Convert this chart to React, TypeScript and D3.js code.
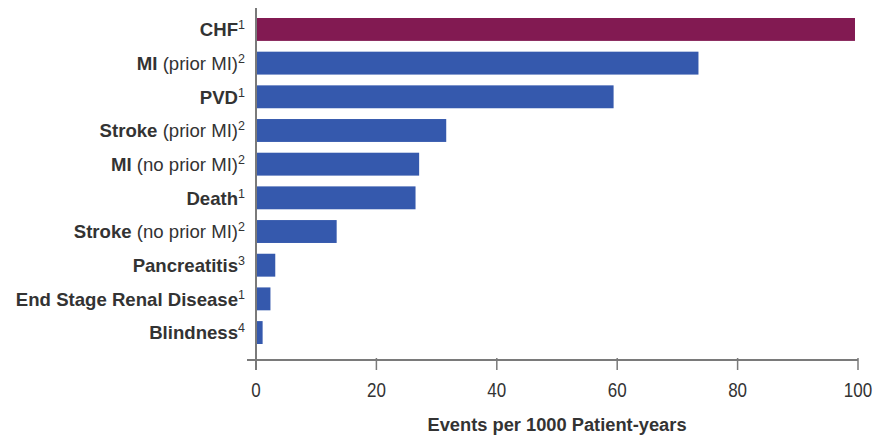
import React from "react";
import * as d3 from "d3";

// Event rates per 1000 patient-years
const outcomes = [
  "CHF",
  "MI",
  "PVD",
  "Stroke",
  "MI",
  "Death",
  "Stroke",
  "Pancreatitis",
  "End Stage Renal Disease",
  "Blindness",
];
const qualifiers = ["", "(prior MI)", "", "(prior MI)", "(no prior MI)", "", "(no prior MI)", "", "", ""];
const footnotes = ["1", "2", "1", "2", "2", "1", "2", "3", "1", "4"];
const rates = [99.5, 73.5, 59.4, 31.6, 27.1, 26.5, 13.4, 3.2, 2.4, 1.1];
const xTicks = [0, 20, 40, 60, 80, 100];
const xTitle = "Events per 1000 Patient-years";

const W = 885;
const H = 436;
const TEXT = "#333333";
const AXIS = "#7a7a7a";
const HIGHLIGHT = "#821a52";
const BAR = "#3559ad";
const FONT = "'Liberation Sans', Arial, sans-serif";

export default function App() {
  const ids = outcomes.map((_, i) => String(i));
  const x = d3.scaleLinear().domain([0, 100]).range([256, 858]);
  const y = d3.scaleBand<string>().domain(ids).range([18, 344]).paddingInner(0.32).paddingOuter(0);
  const axisY = 360;

  return (
    <svg width={W} height={H} style={{ position: "absolute", left: 0, top: 0, background: "#fff" }} fontFamily={FONT}>
      {rates.map((v, i) => (
        <rect
          key={"b" + i}
          x={x(0)}
          y={y(ids[i])}
          width={x(v) - x(0)}
          height={y.bandwidth()}
          fill={i === 0 ? HIGHLIGHT : BAR}
        />
      ))}

      {outcomes.map((name, i) => {
        const cy = (y(ids[i]) as number) + y.bandwidth() / 2;
        return (
          <text key={"l" + i} x={245} y={cy + 6.8} textAnchor="end" fill={TEXT} fontSize={18.6}>
            <tspan fontWeight="bold">{name}</tspan>
            {qualifiers[i] ? <tspan fontWeight="normal">{" " + qualifiers[i]}</tspan> : null}
            <tspan fontSize={12.5} dy={-7}>{footnotes[i]}</tspan>
          </text>
        );
      })}

      {/* axes */}
      <line x1={x(0)} x2={x(0)} y1={8} y2={370} stroke={AXIS} strokeWidth={2} />
      <line x1={247} x2={x(100)} y1={axisY} y2={axisY} stroke={AXIS} strokeWidth={2} />
      {xTicks.map((t) => (
        <g key={"t" + t}>
          <line x1={x(t)} x2={x(t)} y1={axisY - 2} y2={370} stroke={AXIS} strokeWidth={1.5} />
          <text
            transform={`translate(${x(t)},397) scale(0.85,1)`}
            textAnchor="middle"
            fill={TEXT}
            fontSize={20}
          >
            {t}
          </text>
        </g>
      ))}
      <text x={557} y={431} textAnchor="middle" fill={TEXT} fontSize={18.3} fontWeight="bold">
        {xTitle}
      </text>
    </svg>
  );
}
